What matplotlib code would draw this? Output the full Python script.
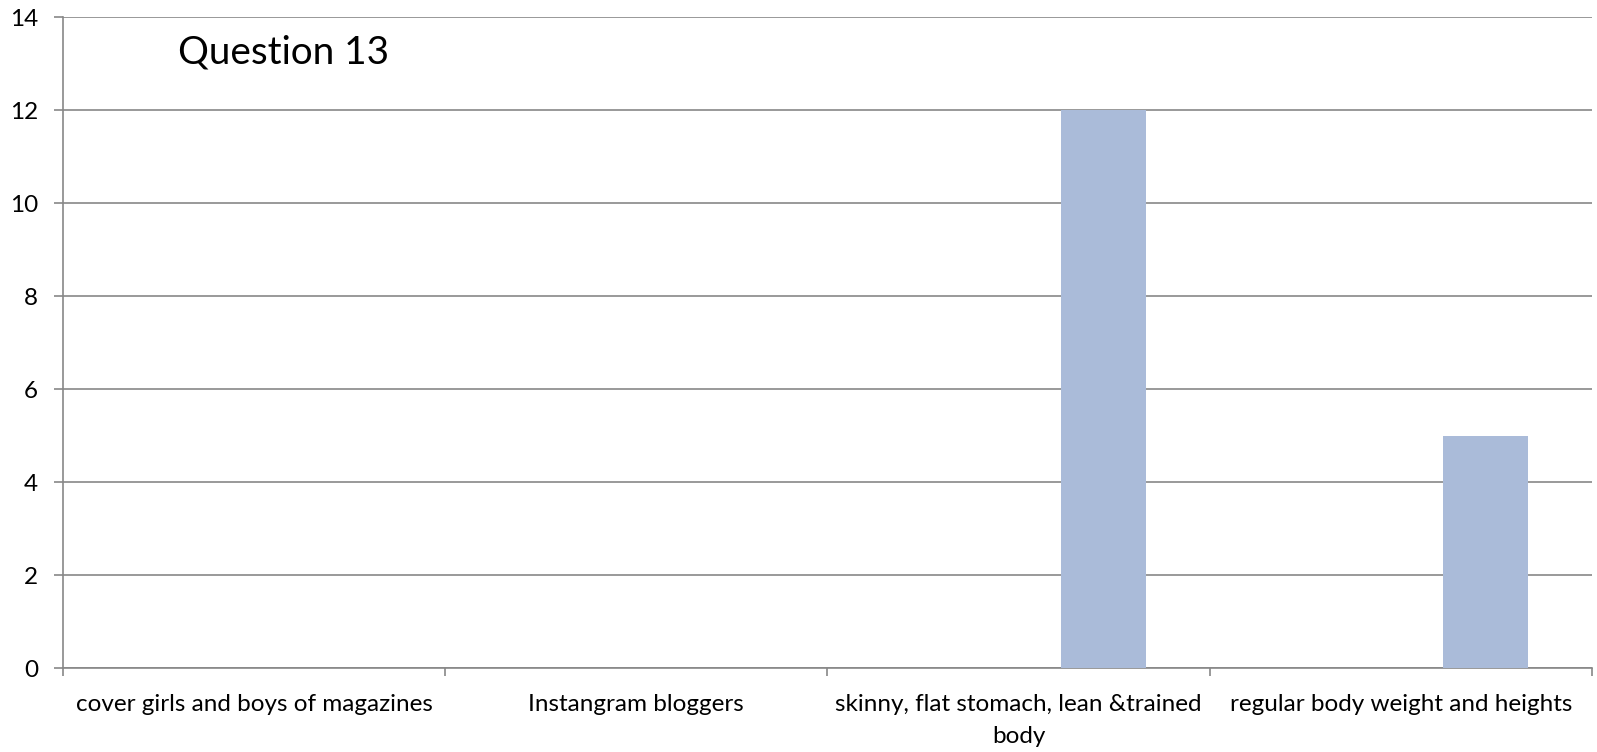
import matplotlib
matplotlib.use("Agg")
from matplotlib import pyplot as plt
import numpy as np

categories = [
    "cover girls and boys of magazines",
    "Instangram bloggers",
    "skinny, flat stomach, lean &trained\nbody",
    "regular body weight and heights",
]
series_1 = [0, 0, 0, 0]
series_2 = [0, 0, 0, 0]
series_3 = [0, 0, 12, 5]
y_ticks = [0, 2, 4, 6, 8, 10, 12, 14]
title = "Question 13"

plt.rcParams["font.family"] = ["Lato", "DejaVu Sans"]

fig = plt.figure(figsize=(15.97, 7.52), dpi=100)
ax = fig.add_axes([0.0394, 0.1117, 0.9575, 0.8653])

x = np.arange(len(categories))
bar_w = 1 / 4.5
for i, vals in enumerate([series_1, series_2, series_3]):
    ax.bar(x + (i - 1) * bar_w, vals, width=bar_w, color="#aabbd9", zorder=3)

ax.set_xlim(-0.5, len(categories) - 0.5)
ax.set_ylim(0, 14)
ax.set_yticks(y_ticks)
ax.yaxis.grid(True, color="#878787", linewidth=1.2, zorder=0)

# category boundaries get the tick marks, centres get the labels
ax.set_xticks(np.arange(len(categories) + 1) - 0.5)
ax.set_xticklabels([])
ax.set_xticks(x, minor=True)
ax.set_xticklabels(categories, minor=True, fontsize=17.5, linespacing=1.6)
ax.tick_params(axis="x", which="major", length=6, color="#878787", width=1.2)
ax.tick_params(axis="x", which="minor", length=0, pad=19)
ax.tick_params(axis="y", length=6.5, color="#878787", width=1.2, pad=11.5, labelsize=17.5)

for side in ["top", "right"]:
    ax.spines[side].set_visible(False)
for side in ["left", "bottom"]:
    ax.spines[side].set_color("#878787")
    ax.spines[side].set_linewidth(1.2)

fig.text(0.1115, 0.916, title, fontsize=27.8, va="baseline", ha="left")

plt.savefig("out.png", dpi=100)
